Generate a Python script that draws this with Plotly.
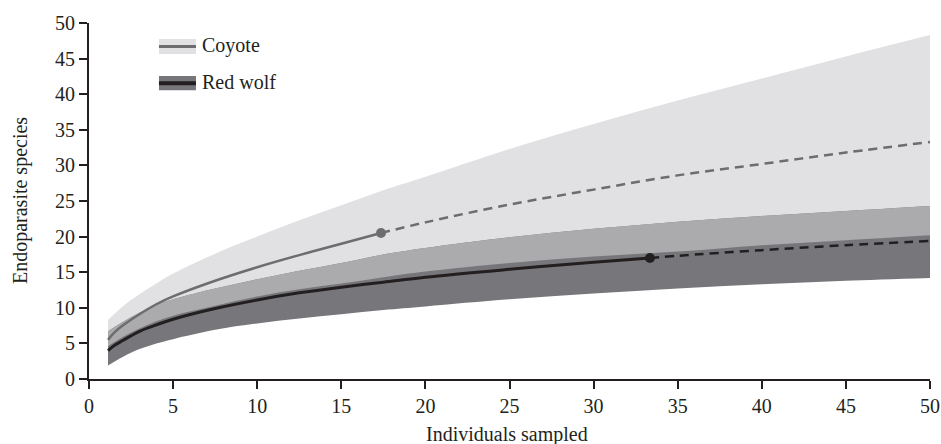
import numpy as np
import plotly.graph_objects as go

# ---- data ----
X_BAND = [1.13, 2, 3, 4, 5, 7.5, 10, 12.5, 15, 17.5, 20, 25, 30, 35, 40, 45, 50]
COYOTE_UPPER = [8.3, 10.2, 11.9, 13.4, 14.8, 17.6, 20.0, 22.3, 24.4, 26.5, 28.4, 32.3, 35.8, 39.1, 42.2, 45.3, 48.3]
COYOTE_LOWER = [4.6, 5.9, 7.1, 8.1, 8.9, 10.3, 11.6, 12.6, 13.4, 14.3, 15.1, 16.3, 17.2, 17.9, 18.8, 19.5, 20.2]
WOLF_UPPER = [6.7, 8.0, 9.3, 10.4, 11.2, 12.7, 14.0, 15.2, 16.3, 17.5, 18.4, 19.9, 21.1, 22.1, 22.9, 23.6, 24.3]
WOLF_LOWER = [1.9, 3.1, 4.2, 5.0, 5.6, 6.9, 7.8, 8.5, 9.1, 9.7, 10.2, 11.2, 12.0, 12.7, 13.3, 13.8, 14.2]

COYOTE_OBS_X = [1.13, 1.5, 2, 3, 4, 5, 7.5, 10, 12.5, 15, 17.36]
COYOTE_OBS_Y = [5.5, 6.5, 7.5, 9.1, 10.5, 11.6, 13.8, 15.7, 17.4, 19.0, 20.5]
COYOTE_EXT_X = [17.36, 20, 25, 30, 35, 40, 45, 50]
COYOTE_EXT_Y = [20.5, 22.0, 24.5, 26.6, 28.6, 30.2, 31.8, 33.3]

WOLF_OBS_X = [1.13, 1.5, 2, 3, 4, 5, 7.5, 10, 12.5, 15, 17.5, 20, 25, 30, 33.35]
WOLF_OBS_Y = [4.0, 4.7, 5.4, 6.7, 7.6, 8.4, 9.9, 11.1, 12.1, 12.9, 13.6, 14.3, 15.4, 16.4, 17.0]
WOLF_EXT_X = [33.35, 35, 40, 45, 50]
WOLF_EXT_Y = [17.0, 17.3, 18.1, 18.8, 19.4]

X_TICKS = [0, 5, 10, 15, 20, 25, 30, 35, 40, 45, 50]
Y_TICKS = [0, 5, 10, 15, 20, 25, 30, 35, 40, 45, 50]
SERIES = ["Coyote", "Red wolf"]
X_TITLE = "Individuals sampled"
Y_TITLE = "Endoparasite species"

LIGHT = "#e1e1e3"
MEDIUM = "#ababae"
DARK = "#77777b"
COY_LINE = "#6d6d70"
WOLF_LINE = "#231f20"
INK = "#231f20"
FONT = "Liberation Serif"
FS = 20

fig = go.Figure()


def band(lower, upper, color):
    fig.add_trace(go.Scatter(x=X_BAND, y=lower, mode="lines", line=dict(width=0, shape="spline"),
                             showlegend=False, hoverinfo="skip"))
    fig.add_trace(go.Scatter(x=X_BAND, y=upper, mode="lines", line=dict(width=0, shape="spline"),
                             fill="tonexty", fillcolor=color, showlegend=False, hoverinfo="skip"))


band(COYOTE_LOWER, COYOTE_UPPER, LIGHT)
band(WOLF_LOWER, WOLF_UPPER, DARK)
ov_lo = np.maximum(np.array(COYOTE_LOWER), np.array(WOLF_LOWER)).tolist()
ov_hi = np.minimum(np.array(COYOTE_UPPER), np.array(WOLF_UPPER)).tolist()
band(ov_lo, ov_hi, MEDIUM)

# lines
fig.add_trace(go.Scatter(x=COYOTE_EXT_X, y=COYOTE_EXT_Y, mode="lines",
                         line=dict(color=COY_LINE, width=2.5, dash="9px,6px", shape="spline"),
                         showlegend=False))
fig.add_trace(go.Scatter(x=WOLF_EXT_X, y=WOLF_EXT_Y, mode="lines",
                         line=dict(color=WOLF_LINE, width=2.5, dash="9px,6px", shape="spline"),
                         showlegend=False))
fig.add_trace(go.Scatter(x=COYOTE_OBS_X, y=COYOTE_OBS_Y, mode="lines",
                         line=dict(color=COY_LINE, width=2.5, shape="spline"), showlegend=False))
fig.add_trace(go.Scatter(x=WOLF_OBS_X, y=WOLF_OBS_Y, mode="lines",
                         line=dict(color=WOLF_LINE, width=3, shape="spline"), showlegend=False))
fig.add_trace(go.Scatter(x=[COYOTE_OBS_X[-1]], y=[COYOTE_OBS_Y[-1]], mode="markers",
                         marker=dict(color=COY_LINE, size=10), showlegend=False))
fig.add_trace(go.Scatter(x=[WOLF_OBS_X[-1]], y=[WOLF_OBS_Y[-1]], mode="markers",
                         marker=dict(color=WOLF_LINE, size=10), showlegend=False))

# legend drawn manually
shapes = [
    dict(type="rect", xref="paper", yref="paper", x0=0.0832, x1=0.1272, y0=0.913, y1=0.955,
         fillcolor=LIGHT, line=dict(width=0)),
    dict(type="line", xref="paper", yref="paper", x0=0.0832, x1=0.1272, y0=0.934, y1=0.934,
         line=dict(color=COY_LINE, width=3)),
    dict(type="rect", xref="paper", yref="paper", x0=0.0832, x1=0.1272, y0=0.811, y1=0.851,
         fillcolor=DARK, line=dict(width=0)),
    dict(type="line", xref="paper", yref="paper", x0=0.0832, x1=0.1272, y0=0.831, y1=0.831,
         line=dict(color=WOLF_LINE, width=4)),
]
annotations = [
    dict(xref="paper", yref="paper", x=0.1325, y=0.936, text=SERIES[0], showarrow=False,
         xanchor="left", yanchor="middle", font=dict(family=FONT, size=FS, color=INK)),
    dict(xref="paper", yref="paper", x=0.1325, y=0.833, text=SERIES[1], showarrow=False,
         xanchor="left", yanchor="middle", font=dict(family=FONT, size=FS, color=INK)),
    dict(xref="paper", yref="paper", x=0.497, y=-0.155, text=X_TITLE, showarrow=False,
         xanchor="center", yanchor="middle", font=dict(family=FONT, size=FS, color=INK)),
    dict(xref="paper", yref="paper", x=-0.082, y=0.5, text=Y_TITLE, showarrow=False, textangle=-90,
         xanchor="center", yanchor="middle", font=dict(family=FONT, size=FS, color=INK)),
]

axis_common = dict(showgrid=False, zeroline=False, showline=True, linecolor=INK, linewidth=2,
                   ticks="outside", ticklen=8, tickwidth=2, tickcolor=INK, automargin=False,
                   tickfont=dict(family=FONT, size=FS, color=INK))

fig.update_layout(
    width=941, height=444,
    margin=dict(l=89, r=11, t=23, b=65),
    paper_bgcolor="white", plot_bgcolor="white",
    shapes=shapes, annotations=annotations,
    xaxis=dict(range=[0, 50], tickvals=X_TICKS, ticktext=[str(v) for v in X_TICKS], **axis_common),
    yaxis=dict(range=[0, 50], tickvals=Y_TICKS, ticktext=[str(v) for v in Y_TICKS], **axis_common),
)

# remove the default page margin so the figure fills the window exactly
fig.write_html("out.html",
               config={"displayModeBar": False, "staticPlot": True},
               post_script="document.body.style.margin='0';document.body.style.overflow='hidden';")
